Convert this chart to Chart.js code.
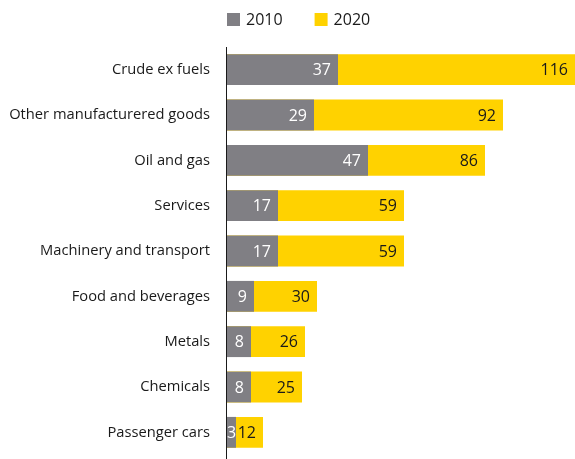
<!DOCTYPE html>
<html>
<head>
<meta charset="utf-8">
<script src="https://cdn.jsdelivr.net/npm/chart.js@4.4.1/dist/chart.umd.min.js"></script>
<style>
  html, body { margin: 0; padding: 0; background: #fff; }
  #wrap { width: 575px; height: 459px; }
</style>
</head>
<body>
<div id="wrap"><canvas id="chart"></canvas></div>
<script>
const categories = [
    'Crude ex fuels',
    'Other manufacturered goods',
    'Oil and gas',
    'Services',
    'Machinery and transport',
    'Food and beverages',
    'Metals',
    'Chemicals',
    'Passenger cars'
];
const values2010 = [37, 29, 47, 17, 17, 9, 8, 8, 3];
const values2020 = [116, 92, 86, 59, 59, 30, 26, 25, 12];
const seriesNames = ['2010', '2020'];

const GREY = '#807f84';
const YELLOW = '#ffd200';
const TEXT = '#1a1a1a';
const FONT = "'Open Sans', sans-serif";

// value labels sitting at the inner right end of each bar
const barLabels = {
    id: 'barLabels',
    afterDatasetsDraw(chart) {
        const ctx = chart.ctx;
        ctx.save();
        ctx.font = '16px ' + FONT;
        ctx.textAlign = 'right';
        ctx.textBaseline = 'middle';
        [1, 0].forEach(di => {
            const meta = chart.getDatasetMeta(di);
            const data = chart.data.datasets[di].data;
            ctx.fillStyle = di === 0 ? '#ffffff' : TEXT;
            meta.data.forEach((bar, i) => {
                const text = String(data[i]);
                const w = ctx.measureText(text).width;
                const x = Math.max(bar.x - 7, bar.base + w);
                ctx.fillText(text, x, bar.y + 1);
            });
        });
        ctx.restore();
    }
};

// small legend above the plot, starting in line with the axis
const topLegend = {
    id: 'topLegend',
    afterDraw(chart) {
        const ctx = chart.ctx;
        const box = 13;
        let x = chart.chartArea.left;
        const y = 13;
        ctx.save();
        ctx.font = '16px ' + FONT;
        ctx.textBaseline = 'middle';
        ctx.textAlign = 'left';
        chart.data.datasets.forEach(ds => {
            ctx.fillStyle = ds.backgroundColor;
            ctx.fillRect(x, y, box, box);
            ctx.fillStyle = TEXT;
            ctx.fillText(ds.label, x + box + 6, y + box / 2 + 1);
            x += box + 6 + ctx.measureText(ds.label).width + 32;
        });
        ctx.restore();
    }
};

// vertical axis line running from the top of the plot to the bottom edge
const axisLine = {
    id: 'axisLine',
    afterDraw(chart) {
        const ctx = chart.ctx;
        const x = Math.round(chart.chartArea.left) - 0.5;
        ctx.save();
        ctx.strokeStyle = TEXT;
        ctx.lineWidth = 1;
        ctx.beginPath();
        ctx.moveTo(x, chart.chartArea.top);
        ctx.lineTo(x, chart.height);
        ctx.stroke();
        ctx.restore();
    }
};

const ctx = document.getElementById('chart').getContext('2d');
new Chart(ctx, {
    type: 'bar',
    data: {
        labels: categories,
        datasets: [{
            label: seriesNames[0],
            data: values2010,
            backgroundColor: GREY,
            grouped: false,
            barPercentage: 0.68,
            categoryPercentage: 1
        }, {
            label: seriesNames[1],
            data: values2020,
            backgroundColor: YELLOW,
            grouped: false,
            barPercentage: 0.68,
            categoryPercentage: 1
        }]
    },
    options: {
        indexAxis: 'y',
        responsive: true,
        maintainAspectRatio: false,
        animation: false,
        layout: {
            padding: { left: 0, right: 0, top: 47, bottom: 4 }
        },
        scales: {
            x: {
                display: false,
                min: 0,
                max: 116
            },
            y: {
                grid: { display: false, drawTicks: false },
                border: { display: false },
                ticks: {
                    color: TEXT,
                    padding: 17,
                    font: { family: FONT, size: 14.7 }
                },
                afterFit(scale) {
                    scale.width = 227;
                    scale.paddingTop = 0;
                    scale.paddingBottom = 0;
                }
            }
        },
        plugins: {
            legend: { display: false },
            tooltip: { enabled: false }
        }
    },
    plugins: [barLabels, topLegend, axisLine]
});
</script>
</body>
</html>
